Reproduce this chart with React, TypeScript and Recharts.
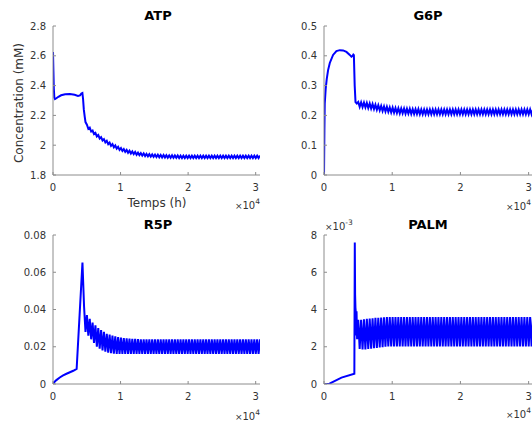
import React from 'react';
import { LineChart, Line, XAxis, YAxis } from 'recharts';

// ---------- data (time in hours, concentrations in mM) ----------
const T_MAX = 30640;
const xTicks = [0, 10000, 20000, 30000];

const atpTicks = [1.8, 2, 2.2, 2.4, 2.6, 2.8];
const g6pTicks = [0, 0.1, 0.2, 0.3, 0.4, 0.5];
const r5pTicks = [0, 0.02, 0.04, 0.06, 0.08];
const palmTicks = [0, 2, 4, 6, 8]; // x 10^-3 mM

// transient part before the sustained oscillation: [t, value]
const atpPre: [number, number][] = [
  [0, 2.625], [60, 2.5], [120, 2.38], [200, 2.32], [300, 2.31], [500, 2.315], [800, 2.325],
  [1200, 2.335], [1800, 2.342], [2500, 2.343], [3200, 2.338], [3700, 2.331], [4000, 2.334],
  [4200, 2.347], [4350, 2.35], [4450, 2.31], [4560, 2.24], [4700, 2.19], [4810, 2.155],
];
const g6pPre: [number, number][] = [
  [0, 0], [60, 0.15], [110, 0.24], [250, 0.29], [400, 0.322], [600, 0.352], [850, 0.376],
  [1330, 0.403], [1820, 0.416], [2310, 0.419], [2800, 0.418], [3290, 0.413], [3780, 0.403],
  [4020, 0.397], [4200, 0.4], [4300, 0.404], [4380, 0.402], [4500, 0.3], [4620, 0.245], [4810, 0.24],
];
const r5pPre: [number, number][] = [
  [0, 0], [250, 0.0012], [500, 0.0021], [1000, 0.0035], [1500, 0.0046], [2000, 0.0055],
  [2500, 0.0063], [3000, 0.0071], [3500, 0.0081], [4360, 0.0652], [4600, 0.0415], [4810, 0.028],
];
const palmPre: [number, number][] = [
  [0, 0], [800, 0.02], [2560, 0.34], [4450, 0.55], [4515, 7.6], [4560, 4.8], [4610, 4.1],
  [4660, 3.85], [4720, 2.6], [4770, 3.9], [4850, 2.4],
];

// sustained oscillation sample times (alternating peak / trough)
const oscTimes = [
  5020, 5230, 5440, 5650, 5860, 6070, 6280, 6490, 6700, 6910,
  7120, 7330, 7540, 7750, 7960, 8170, 8380, 8590, 8800, 9010,
  9220, 9430, 9640, 9850, 10060, 10270, 10480, 10690, 10900, 11110,
  11320, 11530, 11740, 11950, 12160, 12370, 12580, 12790, 13000, 13210,
  13420, 13630, 13840, 14050, 14260, 14470, 14680, 14890, 15100, 15310,
  15520, 15730, 15940, 16150, 16360, 16570, 16780, 16990, 17200, 17410,
  17620, 17830, 18040, 18250, 18460, 18670, 18880, 19090, 19300, 19510,
  19720, 19930, 20140, 20350, 20560, 20770, 20980, 21190, 21400, 21610,
  21820, 22030, 22240, 22450, 22660, 22870, 23080, 23290, 23500, 23710,
  23920, 24130, 24340, 24550, 24760, 24970, 25180, 25390, 25600, 25810,
  26020, 26230, 26440, 26650, 26860, 27070, 27280, 27490, 27700, 27910,
  28120, 28330, 28540, 28750, 28960, 29170, 29380, 29590, 29800, 30010,
  30220, 30430, 30640,
];

const atpPeaks = [
  2.138, 2.118, 2.098, 2.083, 2.068, 2.054, 2.041, 2.029, 2.018, 2.007,
  1.998, 1.989, 1.981, 1.974, 1.968, 1.963, 1.958, 1.954, 1.95, 1.947,
  1.945, 1.942, 1.94, 1.938, 1.937, 1.936, 1.935, 1.934, 1.933, 1.932,
  1.932, 1.931, 1.931, 1.93, 1.93, 1.93, 1.93, 1.93, 1.93, 1.93,
  1.93, 1.93, 1.93, 1.93, 1.93, 1.93, 1.93, 1.93, 1.93, 1.93,
  1.93, 1.93, 1.93, 1.93, 1.93, 1.93, 1.93, 1.93, 1.93, 1.93,
  1.93, 1.93,
];
const atpTroughs = [
  2.11, 2.092, 2.075, 2.059, 2.045, 2.032, 2.019, 2.007, 1.996, 1.986,
  1.977, 1.969, 1.962, 1.955, 1.949, 1.944, 1.94, 1.936, 1.933, 1.93,
  1.927, 1.925, 1.923, 1.922, 1.92, 1.919, 1.918, 1.917, 1.916, 1.916,
  1.915, 1.915, 1.914, 1.914, 1.914, 1.914, 1.914, 1.914, 1.914, 1.914,
  1.914, 1.914, 1.914, 1.914, 1.914, 1.914, 1.914, 1.914, 1.914, 1.914,
  1.914, 1.914, 1.914, 1.914, 1.914, 1.914, 1.914, 1.914, 1.914, 1.914,
  1.914,
];
const g6pPeaks = [
  0.245, 0.244, 0.243, 0.242, 0.24, 0.238, 0.236, 0.234, 0.232, 0.23,
  0.229, 0.227, 0.226, 0.225, 0.224, 0.223, 0.223, 0.222, 0.222, 0.221,
  0.221, 0.221, 0.22, 0.22, 0.22, 0.22, 0.22, 0.22, 0.22, 0.22,
  0.22, 0.22, 0.22, 0.22, 0.22, 0.22, 0.22, 0.22, 0.22, 0.22,
  0.22, 0.22, 0.22, 0.22, 0.22, 0.22, 0.22, 0.22, 0.22, 0.22,
  0.22, 0.22, 0.22, 0.22, 0.22, 0.22, 0.22, 0.22, 0.22, 0.22,
  0.22, 0.22,
];
const g6pTroughs = [
  0.229, 0.228, 0.227, 0.225, 0.223, 0.221, 0.219, 0.217, 0.215, 0.213,
  0.212, 0.21, 0.209, 0.208, 0.207, 0.207, 0.206, 0.206, 0.205, 0.205,
  0.205, 0.204, 0.204, 0.204, 0.204, 0.204, 0.204, 0.204, 0.204, 0.204,
  0.204, 0.204, 0.204, 0.204, 0.204, 0.204, 0.204, 0.204, 0.204, 0.204,
  0.204, 0.204, 0.204, 0.204, 0.204, 0.204, 0.204, 0.204, 0.204, 0.204,
  0.204, 0.204, 0.204, 0.204, 0.204, 0.204, 0.204, 0.204, 0.204, 0.204,
  0.204,
];
const r5pPeaks = [
  0.037, 0.035, 0.033, 0.0315, 0.03, 0.029, 0.028, 0.027, 0.0265, 0.026,
  0.0256, 0.0252, 0.0249, 0.0247, 0.0245, 0.0244, 0.0243, 0.0242, 0.0241, 0.024,
  0.024, 0.024, 0.024, 0.024, 0.024, 0.024, 0.024, 0.024, 0.024, 0.024,
  0.024, 0.024, 0.024, 0.024, 0.024, 0.024, 0.024, 0.024, 0.024, 0.024,
  0.024, 0.024, 0.024, 0.024, 0.024, 0.024, 0.024, 0.024, 0.024, 0.024,
  0.024, 0.024, 0.024, 0.024, 0.024, 0.024, 0.024, 0.024, 0.024, 0.024,
  0.024, 0.024,
];
const r5pTroughs = [
  0.026, 0.024, 0.022, 0.02, 0.019, 0.018, 0.0173, 0.0168, 0.0165, 0.0163,
  0.0162, 0.0161, 0.0161, 0.0161, 0.0161, 0.0161, 0.0161, 0.0161, 0.0161, 0.0161,
  0.0161, 0.0161, 0.0161, 0.0161, 0.0161, 0.0161, 0.0161, 0.0161, 0.0161, 0.0161,
  0.0161, 0.0161, 0.0161, 0.0161, 0.0161, 0.0161, 0.0161, 0.0161, 0.0161, 0.0161,
  0.0161, 0.0161, 0.0161, 0.0161, 0.0161, 0.0161, 0.0161, 0.0161, 0.0161, 0.0161,
  0.0161, 0.0161, 0.0161, 0.0161, 0.0161, 0.0161, 0.0161, 0.0161, 0.0161, 0.0161,
  0.0161,
];
// PALM in units of 10^-3 mM
const palmPeaks = [
  3.45, 3.45, 3.48, 3.5, 3.52, 3.53, 3.55, 3.56, 3.57, 3.58,
  3.59, 3.6, 3.6, 3.6, 3.6, 3.6, 3.6, 3.6, 3.6, 3.6,
  3.6, 3.6, 3.6, 3.6, 3.6, 3.6, 3.6, 3.6, 3.6, 3.6,
  3.6, 3.6, 3.6, 3.6, 3.6, 3.6, 3.6, 3.6, 3.6, 3.6,
  3.6, 3.6, 3.6, 3.6, 3.6, 3.6, 3.6, 3.6, 3.6, 3.6,
  3.6, 3.6, 3.6, 3.6, 3.6, 3.6, 3.6, 3.6, 3.6, 3.6,
  3.6, 3.6,
];
const palmTroughs = [
  1.88, 1.86, 1.86, 1.88, 1.9, 1.92, 1.94, 1.96, 1.98, 2.0,
  2.01, 2.02, 2.02, 2.02, 2.02, 2.02, 2.02, 2.02, 2.02, 2.02,
  2.02, 2.02, 2.02, 2.02, 2.02, 2.02, 2.02, 2.02, 2.02, 2.02,
  2.02, 2.02, 2.02, 2.02, 2.02, 2.02, 2.02, 2.02, 2.02, 2.02,
  2.02, 2.02, 2.02, 2.02, 2.02, 2.02, 2.02, 2.02, 2.02, 2.02,
  2.02, 2.02, 2.02, 2.02, 2.02, 2.02, 2.02, 2.02, 2.02, 2.02,
  2.02,
];

function buildSeries(pre: [number, number][], peaks: number[], troughs: number[]) {
  const out = pre.map(([t, v]) => ({ t, v }));
  oscTimes.forEach((t, i) => {
    out.push({ t, v: i % 2 === 0 ? peaks[i / 2] : troughs[(i - 1) / 2] });
  });
  return out;
}

const atpData = buildSeries(atpPre, atpPeaks, atpTroughs);
const g6pData = buildSeries(g6pPre, g6pPeaks, g6pTroughs);
const r5pData = buildSeries(r5pPre, r5pPeaks, r5pTroughs);
const palmData = buildSeries(palmPre, palmPeaks, palmTroughs);

// ---------- styling ----------
const FONT = '"DejaVu Sans", sans-serif';
const AX = '#8c8c8c';
const TXT = '#333333';
const BLUE = '#0000ff';

const xFmt = (v: number) => String(Math.round(v / 1000) / 10);
const empty = () => '';

type PanelProps = {
  left: number;
  top: number;
  width: number;
  height: number;
  margin: { top: number; right: number; bottom: number; left: number };
  yAxisWidth: number;
  data: { t: number; v: number }[];
  yDomain: [number, number];
  yTicks: number[];
  yFmt: (v: number) => string;
};

function Panel(p: PanelProps) {
  const tickStyle = { fontSize: 10, fill: TXT, fontFamily: FONT };
  return (
    <div style={{ position: 'absolute', left: p.left, top: p.top }}>
      <LineChart width={p.width} height={p.height} data={p.data} margin={p.margin}>
        <XAxis
          xAxisId="b"
          dataKey="t"
          type="number"
          orientation="bottom"
          domain={[0, T_MAX]}
          ticks={xTicks}
          interval={0}
          allowDataOverflow
          height={20}
          tickSize={-3}
          tickMargin={12}
          tickFormatter={xFmt}
          axisLine={{ stroke: AX }}
          tickLine={{ stroke: AX }}
          tick={tickStyle}
        />
        <XAxis
          xAxisId="t"
          dataKey="t"
          type="number"
          orientation="top"
          domain={[0, T_MAX]}
          ticks={xTicks}
          interval={0}
          allowDataOverflow
          height={0}
          tickSize={-3}
          tickFormatter={empty}
          axisLine={{ stroke: AX }}
          tickLine={{ stroke: AX }}
          tick={tickStyle}
        />
        <YAxis
          yAxisId="l"
          type="number"
          orientation="left"
          domain={p.yDomain}
          ticks={p.yTicks}
          interval={0}
          allowDataOverflow
          width={p.yAxisWidth}
          tickSize={-3}
          tickMargin={10}
          tickFormatter={p.yFmt}
          axisLine={{ stroke: AX }}
          tickLine={{ stroke: AX }}
          tick={tickStyle}
        />
        <YAxis
          yAxisId="r"
          type="number"
          orientation="right"
          domain={p.yDomain}
          ticks={p.yTicks}
          interval={0}
          allowDataOverflow
          width={0}
          tickSize={-3}
          tickFormatter={empty}
          axisLine={{ stroke: AX }}
          tickLine={{ stroke: AX }}
          tick={tickStyle}
        />
        <Line
          xAxisId="b"
          yAxisId="l"
          dataKey="v"
          type="linear"
          stroke={BLUE}
          strokeWidth={2}
          dot={false}
          activeDot={false}
          isAnimationActive={false}
        />
      </LineChart>
    </div>
  );
}

const centered = (x: number, y: number, extra: React.CSSProperties = {}): React.CSSProperties => ({
  position: 'absolute',
  left: x,
  top: y,
  transform: 'translate(-50%, -50%)',
  whiteSpace: 'nowrap',
  lineHeight: 1,
  color: TXT,
  ...extra,
});

const titleStyle = (x: number, y: number) =>
  centered(x, y, { fontSize: 13, fontWeight: 'bold', color: '#000' });

function Exp10({ right, y, exp }: { right: number; y: number; exp: string }) {
  return (
    <div
      style={{
        position: 'absolute',
        left: right,
        top: y,
        transform: 'translate(-100%, -50%)',
        whiteSpace: 'nowrap',
        lineHeight: 1,
        fontSize: 10,
        color: TXT,
      }}
    >
      <span style={{ fontSize: 9 }}>×</span>10
      <span style={{ fontSize: 7.5, position: 'relative', top: -5 }}>{exp}</span>
    </div>
  );
}

export default function App() {
  return (
    <div
      style={{
        position: 'absolute',
        left: 0,
        top: 0,
        width: 532,
        height: 425,
        overflow: 'hidden',
        background: '#fff',
        fontFamily: FONT,
      }}
    >
      <Panel
        left={0}
        top={0}
        width={266}
        height={212}
        margin={{ top: 26, right: 6, bottom: 17, left: 0 }}
        yAxisWidth={53}
        data={atpData}
        yDomain={[1.8, 2.8]}
        yTicks={atpTicks}
        yFmt={(v) => String(Math.round(v * 10) / 10)}
      />
      <Panel
        left={266}
        top={0}
        width={267}
        height={212}
        margin={{ top: 26, right: 0, bottom: 17, left: 0 }}
        yAxisWidth={58}
        data={g6pData}
        yDomain={[0, 0.5]}
        yTicks={g6pTicks}
        yFmt={(v) => String(Math.round(v * 10) / 10)}
      />
      <Panel
        left={0}
        top={212}
        width={266}
        height={212}
        margin={{ top: 23, right: 6, bottom: 20, left: 0 }}
        yAxisWidth={53}
        data={r5pData}
        yDomain={[0, 0.08]}
        yTicks={r5pTicks}
        yFmt={(v) => String(Math.round(v * 100) / 100)}
      />
      <Panel
        left={266}
        top={212}
        width={267}
        height={212}
        margin={{ top: 23, right: 0, bottom: 20, left: 0 }}
        yAxisWidth={58}
        data={palmData}
        yDomain={[0, 8]}
        yTicks={palmTicks}
        yFmt={(v) => String(Math.round(v))}
      />

      <div style={titleStyle(158, 15)}>ATP</div>
      <div style={titleStyle(428, 15)}>G6P</div>
      <div style={titleStyle(158, 224)}>R5P</div>
      <div style={titleStyle(428, 224)}>PALM</div>

      <div style={centered(157, 203, { fontSize: 12 })}>Temps (h)</div>
      <div style={centered(19, 103, { fontSize: 12, transform: 'translate(-50%, -50%) rotate(-90deg)' })}>
        Concentration (mM)
      </div>

      <Exp10 right={260} y={206} exp="4" />
      <Exp10 right={531} y={207} exp="4" />
      <Exp10 right={260} y={417} exp="4" />
      <Exp10 right={531} y={415} exp="4" />
      <div
        style={{
          position: 'absolute',
          left: 325,
          top: 227,
          transform: 'translate(0, -50%)',
          whiteSpace: 'nowrap',
          lineHeight: 1,
          fontSize: 10,
          color: TXT,
        }}
      >
        <span style={{ fontSize: 9 }}>×</span>10
        <span style={{ fontSize: 7.5, position: 'relative', top: -5 }}>-3</span>
      </div>
    </div>
  );
}
